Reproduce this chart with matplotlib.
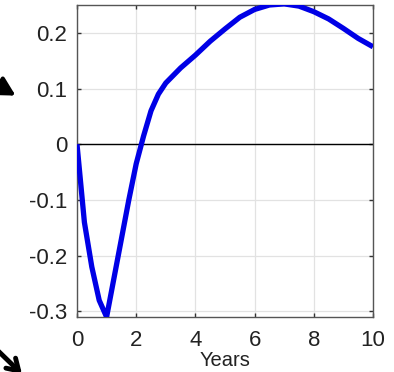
import numpy as np
import matplotlib.pyplot as plt

plt.rcParams['font.family'] = ['Liberation Sans', 'DejaVu Sans']

# response over time
years = [0, 0.25, 0.5, 0.75, 1, 1.25, 1.5, 1.75, 2, 2.25, 2.5, 2.75, 3,
         3.5, 4, 4.5, 5, 5.5, 6, 6.5, 7, 7.5, 8, 8.5, 9, 9.5, 10]
resp = [0, -0.14, -0.22, -0.28, -0.31, -0.24, -0.17, -0.10, -0.035, 0.015,
        0.06, 0.09, 0.11, 0.137, 0.16, 0.185, 0.207, 0.228, 0.242, 0.25,
        0.252, 0.248, 0.238, 0.225, 0.208, 0.19, 0.175]

xticks = [0, 2, 4, 6, 8, 10]
yticks = [-0.3, -0.2, -0.1, 0, 0.1, 0.2]
ylabels = ['-0.3', '-0.2', '-0.1', '0', '0.1', '0.2']

W, H = 394, 372
fig = plt.figure(figsize=(W / 100, H / 100), dpi=100)
ax = fig.add_axes([77 / W, 1 - 317 / H, (373 - 77) / W, (317 - 5) / H])

ax.plot(years, resp, color='#0000e6', lw=3.8, solid_capstyle='butt', zorder=3)
ax.axhline(0, color='black', lw=1.0, zorder=2)

ax.set_xlim(0, 10)
ax.set_ylim(-0.31, 0.25)
ax.set_xticks(xticks)
ax.set_yticks(yticks)
ax.set_yticklabels(ylabels)
ax.grid(True, color='#e2e2e2', lw=0.9)
ax.set_axisbelow(True)
ax.tick_params(direction='in', top=True, right=True, length=3, width=1,
               color='#333333', labelsize=16, labelcolor='#222222')
ax.tick_params(axis='y', pad=7)
ax.tick_params(axis='x', pad=9)
for s in ax.spines.values():
    s.set_color('#555555')
    s.set_linewidth(1.0)
ax.set_xlabel('Years', fontsize=14.5, color='#222222', labelpad=0)

# arrows cut off at the left edge
def fc(px, py):
    return (px / W, 1 - py / H)

ax.annotate('', xy=fc(18, 97), xytext=fc(-20, 75),
            xycoords='figure fraction', textcoords='figure fraction',
            arrowprops=dict(arrowstyle='-|>,head_length=1.1,head_width=0.6',
                            color='black', lw=3))
ax.annotate('', xy=fc(24, 376), xytext=fc(-8, 345),
            xycoords='figure fraction', textcoords='figure fraction',
            arrowprops=dict(arrowstyle='->,head_length=0.8,head_width=0.5',
                            color='black', lw=3.5))

fig.savefig('out.png', dpi=100)
